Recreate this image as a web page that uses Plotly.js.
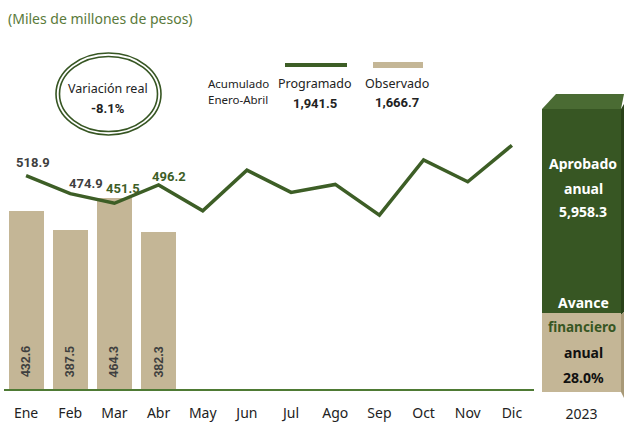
<!DOCTYPE html>
<html>
<head>
<meta charset="utf-8">
<script src="https://cdn.plot.ly/plotly-3.0.1.min.js"></script>
<style>html,body{margin:0;padding:0;background:#fff;}#chart{width:624px;height:423px;}</style>
</head>
<body>
<div id="chart"></div>
<script>
// ---- data ----
const months = ["Ene","Feb","Mar","Abr","May","Jun","Jul","Ago","Sep","Oct","Nov","Dic"];
const programado = [518.9,474.9,451.5,496.2,433.3,532.2,478.0,497.4,422.8,556.8,503.8,592.5];
const observadoMonths = ["Ene","Feb","Mar","Abr"];
const observado = [432.6,387.5,464.3,382.3];
const labeledProg = [518.9,474.9,451.5,496.2];
const aprobadoAnual = 5958.3;
const observadoAcum = 1666.7;
const programadoAcum = 1941.5;
const avancePct = 28.0;
const variacionReal = -8.1;
const yearLabel = "2023";

// ---- geometry helpers (pixel -> paper) ----
const L = 4, R = 3, T = 30, B = 31, W = 624, H = 423;
const PW = W - L - R, PH = H - T - B;
const px = x => (x - L) / PW;
const py = y => (H - B - y) / PH;

const green = "#3D5E26";
const darkGreen = "#375623";
const tan = "#C4B696";
const gray = "#3F3F3F";
const numFont = "Roboto,'Liberation Sans',sans-serif";
const txtFont = "'Noto Sans','Liberation Sans',sans-serif";

const fmt = v => v.toLocaleString('en-US',{minimumFractionDigits:1,maximumFractionDigits:1});

const traces = [
  {type:'bar', x:observadoMonths, y:observado, xaxis:'x', yaxis:'y', width:0.79,
   marker:{color:tan}, hoverinfo:'skip', showlegend:false},
  {type:'scatter', mode:'lines', x:months, y:programado, xaxis:'x', yaxis:'y',
   line:{color:green, width:3.5}, hoverinfo:'skip', showlegend:false},
  {type:'bar', x:[yearLabel], y:[observadoAcum], xaxis:'x2', yaxis:'y2', width:1,
   marker:{color:tan}, hoverinfo:'skip', showlegend:false},
  {type:'bar', x:[yearLabel], y:[aprobadoAnual - observadoAcum], xaxis:'x2', yaxis:'y2', width:1,
   marker:{color:darkGreen}, hoverinfo:'skip', showlegend:false}
];

const annotations = [];
// bar value labels (rotated)
observadoMonths.forEach((m,i)=>{
  annotations.push({xref:'x', yref:'y', x:m, y:0, yshift:27, text:'<b>'+fmt(observado[i])+'</b>',
    textangle:-90, showarrow:false, xanchor:'center', yanchor:'middle',
    font:{family:"'Liberation Sans',Arial,sans-serif", size:12.5, color:gray}});
});
// line value labels
const lblShift = [[7,13,gray],[16,10,gray],[9,15,green],[10,8,green]];
labeledProg.forEach((v,i)=>{
  annotations.push({xref:'x', yref:'y', x:months[i], y:v, xshift:lblShift[i][0], yshift:lblShift[i][1],
    text:'<b>'+fmt(v)+'</b>', showarrow:false, xanchor:'center', yanchor:'middle',
    font:{family:numFont, size:13, color:lblShift[i][2]}});
});
function txt(x,y,text,size,color,family,anchor){
  annotations.push({xref:'paper', yref:'paper', x:px(x), y:py(y), text:text, showarrow:false,
    xanchor:anchor||'center', yanchor:'middle', font:{family:family||txtFont, size:size, color:color}});
}
txt(6,18,"(Miles de millones de pesos)",14,"#5A7A3A",txtFont,'left');
txt(108,88,"Variación real",12.5,"#222");
txt(108,108,"<b>"+variacionReal.toFixed(1)+"%</b>",13,"#222",numFont);
txt(238,83,"Acumulado",11.5,"#222");
txt(238,100,"Enero-Abril",11.5,"#222");
txt(315,84,"Programado",12.5,"#222");
txt(315,103,"<b>"+fmt(programadoAcum)+"</b>",13,"#222",numFont);
txt(397,83,"Observado",12.5,"#222");
txt(397,102,"<b>"+fmt(observadoAcum)+"</b>",13,"#222",numFont);
const bf = "'Noto Sans','Liberation Sans',sans-serif";
txt(583,163,"<b>Aprobado</b>",14,"#fff",bf);
txt(583,188,"<b>anual</b>",14,"#fff",bf);
txt(583,212,"<b>"+fmt(aprobadoAnual)+"</b>",14,"#fff",bf);
txt(583,302,"<b>Avance</b>",14,"#fff",bf);
txt(582,327,"<b>financiero</b>",13.5,darkGreen,bf);
txt(583,352,"<b>anual</b>",14,"#111",bf);
txt(583,377,"<b>"+avancePct.toFixed(1)+"%</b>",14,"#111",bf);

function poly(pts){ return 'M ' + pts.map(p=>px(p[0])+','+py(p[1])).join(' L ') + ' Z'; }
const shapes = [
  // ellipse double border
  {type:'circle', xref:'paper', yref:'paper', x0:px(56), x1:px(161), y0:py(135), y1:py(53),
   line:{color:darkGreen, width:1.6}},
  {type:'circle', xref:'paper', yref:'paper', x0:px(59.5), x1:px(157.5), y0:py(131.5), y1:py(56.5),
   line:{color:darkGreen, width:1.6}},
  // legend keys
  {type:'line', xref:'paper', yref:'paper', x0:px(285), x1:px(347), y0:py(65), y1:py(65),
   line:{color:green, width:4}},
  {type:'rect', xref:'paper', yref:'paper', x0:px(373), x1:px(423), y0:py(68), y1:py(62),
   line:{width:0}, fillcolor:tan},
  // 3D top face
  {type:'path', xref:'paper', yref:'paper', path:poly([[542,109],[556,94],[624,94],[621,109]]),
   fillcolor:'#4A6B33', line:{width:0}},
  // side faces
  {type:'path', xref:'paper', yref:'paper', path:poly([[621,109],[624,104],[624,312],[621,315]]),
   fillcolor:'#2A4219', line:{width:0}},
  {type:'path', xref:'paper', yref:'paper', path:poly([[621,315],[624,312],[624,398],[621,392]]),
   fillcolor:'#A89977', line:{width:0}}
];

const layout = {
  width:W, height:H, margin:{l:L, r:R, t:T, b:B},
  paper_bgcolor:'#fff', plot_bgcolor:'rgba(0,0,0,0)',
  barmode:'stack', showlegend:false,
  xaxis:{domain:[0, px(534)], type:'category', categoryarray:months, categoryorder:'array',
    range:[-0.5,11.5], showline:true, linecolor:'#4E7A34', linewidth:1.5,
    ticks:'outside', ticklen:11, tickcolor:'rgba(0,0,0,0)', showgrid:false, zeroline:false,
    tickfont:{family:txtFont, size:14, color:'#222'}},
  yaxis:{domain:[py(389), 1], range:[0, 872.8], visible:false, showgrid:false, zeroline:false},
  xaxis2:{domain:[px(542), px(621)], anchor:'y2', type:'category', range:[-0.5,0.5],
    showline:false, ticks:'outside', ticklen:9, tickcolor:'rgba(0,0,0,0)', showgrid:false,
    tickfont:{family:txtFont, size:14, color:'#222'}},
  yaxis2:{domain:[0, py(109)], anchor:'x2', range:[0, aprobadoAnual], visible:false, showgrid:false, zeroline:false},
  annotations:annotations, shapes:shapes
};
Plotly.newPlot('chart', traces, layout, {staticPlot:true, displayModeBar:false});
</script>
</body>
</html>
